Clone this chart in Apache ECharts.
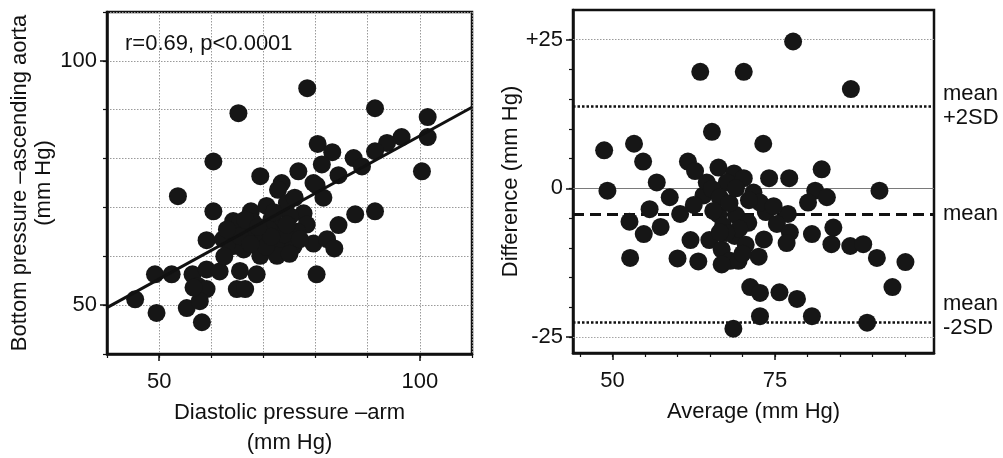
<!DOCTYPE html>
<html><head><meta charset="utf-8">
<script src="https://cdn.jsdelivr.net/npm/echarts@6/dist/echarts.min.js"></script>
<style>html,body{margin:0;padding:0;background:#fff}#c{width:1003px;height:458px}</style>
</head><body><div id="c"></div>
<script>
// ---- Left panel: diastolic pressure (arm) vs bottom pressure (ascending aorta)
const leftX = [78.4,65.2,91.4,101.5,101.5,96.5,93.7,91.4,87.3,88.9,80.4,83.2,81.2,60.4,69.4,76.7,100.4,73.5,79.6,84.4,72.8,80.2,81.5,53.6,60.4,91.4,87.6,84.4,64.2,67.6,70.6,74.5,77.7,78.3,75.1,65.5,59.1,62.3,64.2,66.8,68.1,70.0,71.9,73.2,75.8,79.6,82.2,83.6,73.2,69.4,66.2,69.4,72.6,49.2,52.4,56.4,59.1,61.6,65.5,68.7,80.2,57.5,59.1,64.9,66.5,45.4,55.3,57.8,49.5,58.2,56.6,65.5,71.5,76.5,74.0,71.0,68.0,72.0,62.5,77.0,76.0,66.5,63.0,70.5,75.0,67.5,71.5,74.5,69.0];
const leftY = [94.4,89.3,90.3,88.5,84.4,84.4,83.2,81.5,80.1,78.4,83.0,81.3,78.8,79.4,76.4,77.4,77.4,75.0,75.0,76.6,73.6,74.5,72.0,72.3,69.2,69.2,68.6,66.4,67.2,69.2,70.3,70.9,68.8,66.5,68.2,66.9,63.3,63.5,62.1,64.8,64.1,64.1,62.8,62.8,62.1,62.6,63.5,61.6,66.2,61.4,61.4,60.1,60.1,56.3,56.3,56.3,57.3,56.9,57.0,56.3,56.3,53.9,53.3,53.3,53.3,51.2,49.4,50.8,48.4,46.5,53.6,64.1,67.5,65.0,64.5,65.5,67.0,69.0,60.0,63.5,72.0,67.5,65.5,62.0,60.5,62.5,64.0,66.5,66.0];
const fitX = [40, 110];
const fitY = [49.5, 90.5];
const leftMajorTicks = [50, 100];
const leftMinorTicks = [40, 50, 60, 70, 80, 90, 100, 110];
const corrText = 'r=0.69, p<0.0001';
const leftXName = 'Diastolic pressure \u2013arm\n(mm Hg)';
const leftYName = 'Bottom pressure \u2013ascending aorta\n(mm Hg)';

// ---- Right panel: Bland-Altman
const avgX = [77.8,63.5,70.2,86.7,65.3,48.7,53.3,54.7,73.2,82.2,61.6,62.7,66.3,68.7,70.2,74.1,77.2,56.8,49.2,58.8,91.1,81.2,83.0,80.1,64.0,62.5,60.4,55.7,52.6,54.8,57.4,66.3,69.0,70.9,73.6,77.0,64.5,67.6,71.7,72.7,75.3,77.3,80.7,84.0,83.7,86.6,88.6,90.7,95.1,93.1,89.2,80.7,72.7,68.6,71.2,72.7,75.7,78.4,52.7,60.0,63.2,62.0,64.9,66.8,68.1,69.4,72.5,73.3,76.8,68.8,67.0,65.3,66.5,68.0,69.5,67.5,70.5,66.8,70.0,74.8,66.5,65.5,71.0,69.0];
const diffY = [24.7,19.6,19.6,16.7,9.5,6.4,7.5,4.5,7.5,3.2,4.5,2.9,3.5,2.5,1.7,1.7,1.7,1.0,-0.4,-1.5,-0.4,-0.4,-1.5,-2.4,-1.2,-2.8,-4.3,-3.5,-5.6,-7.7,-6.5,-4.4,-4.5,-5.8,-4.0,-4.3,1.0,1.0,-0.7,-2.4,-6.0,-7.4,-7.7,-6.6,-9.4,-9.7,-9.4,-11.7,-12.4,-16.6,-22.6,-21.5,-21.5,-23.6,-16.6,-17.6,-17.5,-18.6,-11.7,-11.8,-12.3,-8.7,-8.7,-10.3,-12.2,-12.2,-11.5,-8.6,-9.2,-8.0,-6.3,-0.1,-1.5,-2.5,-6.8,-7.5,-9.5,-12.8,-11.0,-3.0,-7.4,-3.8,-2.0,0.0];
const meanDiff = -4.3;
const upperLimit = 13.8;
const lowerLimit = -22.5;
const rightXMajorTicks = [50, 75];
const rightXMinorTicks = [45, 50, 55, 60, 65, 70, 75, 80, 85, 90, 95];
const rightYMajorTicks = [-25, 0, 25];
const rightYMinorTicks = [-25, -20, -15, -10, -5, 0, 5, 10, 15, 20, 25];
const rightXName = 'Average (mm Hg)';
const rightYName = 'Difference (mm Hg)';
const upperLabel = 'mean\n+2SD';
const meanLabel = 'mean';
const lowerLabel = 'mean\n-2SD';

const FONT = '"Liberation Sans", Arial, Helvetica, sans-serif';
const INK = '#111';
const txt = (extra) => Object.assign({ fontFamily: FONT, fontSize: 22, color: INK }, extra || {});

const leftPts = leftX.map((x, i) => [x, leftY[i]]);
const fitPts = fitX.map((x, i) => [x, fitY[i]]);
const rightPts = avgX.map((x, i) => [x, diffY[i]]);

function majorAxis(grid, min, max, ticks, pos, extra) {
  return Object.assign({
    gridIndex: grid, type: 'value', min: min, max: max, position: pos,
    axisLine: { show: true, onZero: false, lineStyle: { color: INK, width: 2.5 } },
    axisTick: { show: true, length: 7, customValues: ticks, lineStyle: { color: INK, width: 1.5 } },
    axisLabel: Object.assign({ customValues: ticks }, txt()),
    splitLine: { show: false }
  }, extra);
}
function minorAxis(grid, min, max, ticks, pos, split) {
  return {
    gridIndex: grid, type: 'value', min: min, max: max, position: pos,
    axisLine: { show: false, onZero: false },
    axisTick: { show: true, length: 4, customValues: ticks, lineStyle: { color: INK, width: 1.2 } },
    axisLabel: { show: false },
    splitLine: split ? { show: true, lineStyle: { color: '#9a9a9a', type: [1.5, 1.5], width: 1 } } : { show: false },
    interval: 10
  };
}

const chart = echarts.init(document.getElementById('c'), null, { renderer: 'canvas' });
chart.setOption({
  animation: false,
  backgroundColor: '#fff',
  grid: [
    { left: 107, top: 12, width: 365, height: 342, outerBoundsMode: 'none', containLabel: false,
      show: true, borderColor: INK, borderWidth: 2.5, backgroundColor: 'transparent' },
    { left: 573, top: 10, width: 361, height: 343, outerBoundsMode: 'none', containLabel: false,
      show: true, borderColor: INK, borderWidth: 2.5, backgroundColor: 'transparent' }
  ],
  xAxis: [
    majorAxis(0, 40, 110, leftMajorTicks, 'bottom', {
      axisLabel: Object.assign({ customValues: leftMajorTicks, margin: 17 }, txt()),
      name: leftXName, nameLocation: 'middle', nameGap: 40,
      nameTextStyle: txt({ lineHeight: 30 })
    }),
    minorAxis(0, 40, 110, leftMinorTicks, 'bottom', true),
    majorAxis(1, 43.9, 99.5, rightXMajorTicks, 'bottom', {
      axisLabel: Object.assign({ customValues: rightXMajorTicks, margin: 17 }, txt()),
      name: rightXName, nameLocation: 'middle', nameGap: 40,
      nameTextStyle: txt({ lineHeight: 30 })
    }),
    minorAxis(1, 43.9, 99.5, rightXMinorTicks, 'bottom', false)
  ],
  yAxis: [
    majorAxis(0, 40, 110, leftMajorTicks, 'left', {
      axisLabel: Object.assign({ customValues: leftMajorTicks, margin: 10 }, txt()),
      name: leftYName, nameLocation: 'middle', nameGap: 46, nameRotate: 90,
      nameTextStyle: txt({ lineHeight: 24 })
    }),
    minorAxis(0, 40, 110, leftMinorTicks, 'left', true),
    majorAxis(1, -27.7, 30, rightYMajorTicks, 'left', {
      axisLabel: Object.assign({ customValues: rightYMajorTicks, margin: 10,
        formatter: (v) => (v > 0 ? '+' + v : String(v)) }, txt()),
      name: rightYName, nameLocation: 'middle', nameGap: 36, nameRotate: 90,
      nameTextStyle: txt()
    }),
    minorAxis(1, -27.7, 30, rightYMinorTicks, 'left', false)
  ],
  graphic: [
    { type: 'text', x: 125, y: 44, silent: true,
      style: { text: corrText, font: '22px ' + FONT, fill: INK, align: 'left', verticalAlign: 'middle' } }
  ],
  series: [
    { type: 'scatter', xAxisIndex: 0, yAxisIndex: 0, data: leftPts, symbol: 'circle', symbolSize: 18,
      itemStyle: { color: '#161616', opacity: 1 }, z: 3 },
    { type: 'line', xAxisIndex: 0, yAxisIndex: 0, data: fitPts, showSymbol: false, symbol: 'none',
      lineStyle: { color: INK, width: 3 }, z: 4, silent: true },
    { type: 'scatter', xAxisIndex: 2, yAxisIndex: 2, data: rightPts, symbol: 'circle', symbolSize: 18,
      itemStyle: { color: '#161616', opacity: 1 }, z: 3,
      markLine: {
        silent: true, symbol: ['none', 'none'], animation: false, z: 2,
        label: { show: false },
        data: [
          { yAxis: 25, lineStyle: { color: '#9a9a9a', type: [1.5, 1.5], width: 1 } },
          { yAxis: 0, lineStyle: { color: '#7a7a7a', type: 'solid', width: 1 } },
          { yAxis: -25, lineStyle: { color: '#a5a5a5', type: [1.5, 1.5], width: 1 } },
          { yAxis: upperLimit, lineStyle: { color: INK, type: [2.5, 2], width: 2.5 },
            label: Object.assign({ show: true, position: 'end', distance: 9, formatter: upperLabel, lineHeight: 24, align: 'left' }, txt()) },
          { yAxis: meanDiff, lineStyle: { color: INK, type: [11, 6], width: 3 },
            label: Object.assign({ show: true, position: 'end', distance: 9, formatter: meanLabel, lineHeight: 24, align: 'left' }, txt()) },
          { yAxis: lowerLimit, lineStyle: { color: INK, type: [2.5, 2], width: 2.5 },
            label: Object.assign({ show: true, position: 'end', distance: 9, formatter: lowerLabel, lineHeight: 24, align: 'left', offset: [0, -6] }, txt()) }
        ]
      }
    }
  ]
});
</script>
</body></html>
